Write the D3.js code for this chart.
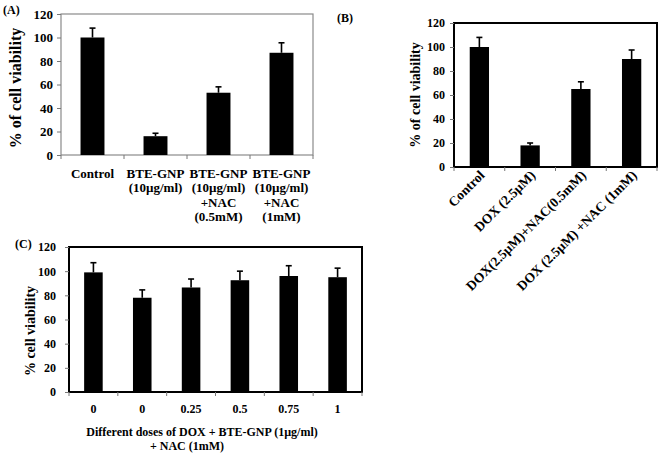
<!DOCTYPE html>
<html>
<head>
<meta charset="utf-8">
<script src="https://cdn.jsdelivr.net/npm/d3@7"></script>
<style>
  body { margin: 0; background: #fff; }
  svg { display: block; }
  text { font-family: "Liberation Serif", "Times New Roman", serif; font-weight: bold; fill: #000; }
</style>
</head>
<body>
<svg id="chart" width="661" height="459"></svg>
<script>
// ---------- data ----------
const yTicks = [0, 20, 40, 60, 80, 100, 120];

const panelACategories = [
  ["Control"],
  ["BTE-GNP", "(10µg/ml)"],
  ["BTE-GNP", "(10µg/ml)", "+NAC", "(0.5mM)"],
  ["BTE-GNP", "(10µg/ml)", "+NAC", "(1mM)"]
];
const panelAValues = [100, 16, 53, 87];
const panelAErrors = [8, 2.5, 5, 8.5];

const panelBCategories = ["Control", "DOX (2.5µM)", "DOX(2.5µM)+NAC(0.5mM)", "DOX (2.5µM) +NAC (1mM)"];
const panelBValues = [100, 18, 65, 90];
const panelBErrors = [8, 2, 6, 7.5];

const panelCCategories = ["0", "0", "0.25", "0.5", "0.75", "1"];
const panelCValues = [99, 78, 86.5, 92.5, 96, 95];
const panelCErrors = [8, 6.5, 7, 7.5, 8.5, 7.5];

const svg = d3.select("#chart");

function drawPanel(opt) {
  const g = svg.append("g");
  const x = d3.scaleBand()
    .domain(opt.values.map((d, i) => i))
    .range([opt.left, opt.right])
    .paddingInner(0.62)
    .paddingOuter(0.31);
  const y = d3.scaleLinear().domain([0, 120]).range([opt.bottom, opt.top]);

  // frame
  g.append("rect")
    .attr("x", opt.left).attr("y", opt.top)
    .attr("width", opt.right - opt.left).attr("height", opt.bottom - opt.top)
    .attr("fill", "none").attr("stroke", opt.frameColor).attr("stroke-width", opt.frameWidth);

  // y axis
  const yAxis = d3.axisLeft(y).tickValues(yTicks).tickSize(4).tickPadding(opt.tickPad);
  const ya = g.append("g").attr("transform", `translate(${opt.left},0)`).call(yAxis);
  ya.select(".domain").remove();
  ya.selectAll(".tick line").attr("stroke", "#777");
  ya.selectAll(".tick text")
    .style("font-family", "'Liberation Serif', serif")
    .style("font-weight", "bold")
    .style("font-size", opt.tickFont + "px")
    .attr("fill", "#000");

  // x ticks at band boundaries
  const bounds = d3.range(opt.values.length + 1).map(i => opt.left + i * x.step());
  g.selectAll(".xt").data(bounds).enter().append("line")
    .attr("x1", d => d).attr("x2", d => d)
    .attr("y1", opt.bottom).attr("y2", opt.bottom + 4)
    .attr("stroke", "#777").attr("stroke-width", 1);

  // bars
  g.selectAll(".bar").data(opt.values).enter().append("rect")
    .attr("x", (d, i) => x(i)).attr("width", x.bandwidth())
    .attr("y", d => y(d)).attr("height", d => y(0) - y(d))
    .attr("fill", "#000");

  // error bars (upper only)
  const cap = 3;
  opt.values.forEach((v, i) => {
    const cx = x(i) + x.bandwidth() / 2;
    g.append("line").attr("x1", cx).attr("x2", cx)
      .attr("y1", y(v)).attr("y2", y(v + opt.errors[i]))
      .attr("stroke", "#000").attr("stroke-width", 1.6);
    g.append("line").attr("x1", cx - cap).attr("x2", cx + cap)
      .attr("y1", y(v + opt.errors[i])).attr("y2", y(v + opt.errors[i]))
      .attr("stroke", "#000").attr("stroke-width", 1.6);
  });

  // y title
  g.append("text")
    .attr("transform", `translate(${opt.yTitleX},${opt.yTitleY}) rotate(-90)`)
    .attr("text-anchor", "middle").attr("dy", "0.35em")
    .style("font-size", opt.yTitleFont + "px")
    .text(opt.yTitle);

  // panel label
  g.append("text").attr("x", opt.labelX).attr("y", opt.labelY)
    .style("font-size", "12px").text(opt.label);

  return { g, x, y };
}

// ---------- Panel A ----------
const A = drawPanel({
  values: panelAValues, errors: panelAErrors,
  left: 61, right: 313, top: 14, bottom: 155,
  frameColor: "#8a8a8a", frameWidth: 1.2, tickPad: 4, tickFont: 13,
  yTitle: "% of cell viability", yTitleX: 15, yTitleY: 88, yTitleFont: 16,
  label: "(A)", labelX: 3, labelY: 14
});
panelACategories.forEach((lines, i) => {
  const cx = A.x(i) + A.x.bandwidth() / 2;
  const t = A.g.append("text").attr("text-anchor", "middle").style("font-size", "13px");
  lines.forEach((ln, j) => {
    t.append("tspan").attr("x", cx).attr("y", 177.5 + j * 14.5).text(ln);
  });
});

// ---------- Panel B ----------
const B = drawPanel({
  values: panelBValues, errors: panelBErrors,
  left: 454, right: 657, top: 23, bottom: 167,
  frameColor: "#000", frameWidth: 2, tickPad: 5, tickFont: 12,
  yTitle: "% of cell viability", yTitleX: 415, yTitleY: 95, yTitleFont: 14,
  label: "(B)", labelX: 337, labelY: 22
});
panelBCategories.forEach((lbl, i) => {
  const cx = B.x(i) + B.x.bandwidth() / 2;
  B.g.append("text")
    .attr("transform", `translate(${cx + 6},${176}) rotate(-45)`)
    .attr("text-anchor", "end")
    .style("font-size", "13.5px")
    .text(lbl);
});

// ---------- Panel C ----------
const C = drawPanel({
  values: panelCValues, errors: panelCErrors,
  left: 69, right: 362, top: 247, bottom: 392,
  frameColor: "#000", frameWidth: 2, tickPad: 9, tickFont: 12,
  yTitle: "% cell viability", yTitleX: 30, yTitleY: 331, yTitleFont: 14,
  label: "(C)", labelX: 15, labelY: 248
});
panelCCategories.forEach((lbl, i) => {
  const cx = C.x(i) + C.x.bandwidth() / 2;
  C.g.append("text").attr("x", cx).attr("y", 413)
    .attr("text-anchor", "middle").style("font-size", "12px").text(lbl);
});
C.g.append("text").attr("x", 202).attr("y", 436).attr("text-anchor", "middle")
  .style("font-size", "12px").text("Different doses of DOX + BTE-GNP (1µg/ml)");
C.g.append("text").attr("x", 187).attr("y", 449.5).attr("text-anchor", "middle")
  .style("font-size", "12px").text("+ NAC (1mM)");
</script>
</body>
</html>
